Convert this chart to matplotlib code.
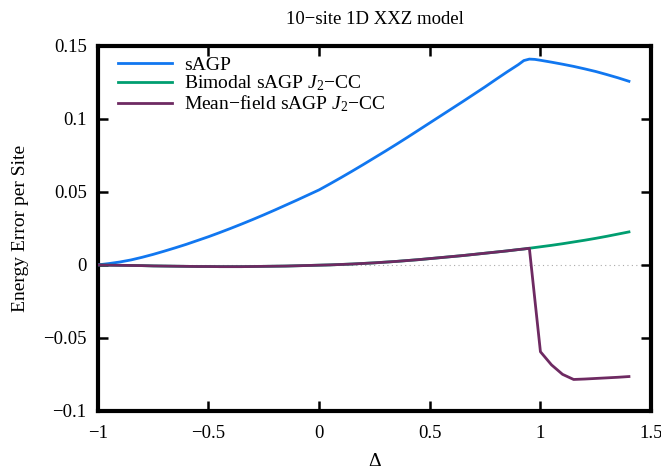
import numpy as np
import matplotlib
matplotlib.use("Agg")
import matplotlib.pyplot as plt

delta = [-1.00, -0.95, -0.90, -0.85, -0.80, -0.75, -0.70, -0.65, -0.60, -0.55,
         -0.50, -0.45, -0.40, -0.35, -0.30, -0.25, -0.20, -0.15, -0.10, -0.05,
         0.00, 0.05, 0.10, 0.15, 0.20, 0.25, 0.30, 0.35, 0.40, 0.45,
         0.50, 0.55, 0.60, 0.65, 0.70, 0.75, 0.80, 0.85, 0.90, 0.925, 0.95, 0.975,
         1.00, 1.05, 1.10, 1.15, 1.20, 1.25, 1.30, 1.35, 1.40]

sagp = [0.0000, 0.0009, 0.0020, 0.0034, 0.0052, 0.0072, 0.0094, 0.0117, 0.0141, 0.0167,
        0.0193, 0.0221, 0.0250, 0.0280, 0.0311, 0.0343, 0.0376, 0.0410, 0.0444, 0.0479,
        0.0514, 0.0556, 0.0599, 0.0643, 0.0688, 0.0734, 0.0780, 0.0827, 0.0875, 0.0924,
        0.0973, 0.1022, 0.1071, 0.1120, 0.1170, 0.1220, 0.1272, 0.1323, 0.1372, 0.1400, 0.1410, 0.1408,
        0.1402, 0.1389, 0.1375, 0.1360, 0.1343, 0.1325, 0.1304, 0.1282, 0.1258]

bimodal = [0.0000, -0.0002, -0.0003, -0.0004, -0.0005, -0.0007, -0.0008, -0.0009, -0.0010, -0.0011,
           -0.0011, -0.0012, -0.0012, -0.0012, -0.0011, -0.0010, -0.0009, -0.0008, -0.0006, -0.0004,
           -0.0002, 0.0000, 0.0003, 0.0006, 0.0010, 0.0014, 0.0019, 0.0024, 0.0030, 0.0036,
           0.0043, 0.0050, 0.0057, 0.0064, 0.0072, 0.0080, 0.0088, 0.0096, 0.0105, 0.0109, 0.0114, 0.0119,
           0.0124, 0.0134, 0.0145, 0.0157, 0.0169, 0.0182, 0.0196, 0.0211, 0.0226]

meanfield = [0.0000, -0.0002, -0.0003, -0.0004, -0.0005, -0.0007, -0.0008, -0.0009, -0.0010, -0.0011,
             -0.0011, -0.0012, -0.0012, -0.0012, -0.0011, -0.0010, -0.0009, -0.0008, -0.0006, -0.0004,
             -0.0002, 0.0000, 0.0003, 0.0006, 0.0010, 0.0014, 0.0019, 0.0024, 0.0030, 0.0036,
             0.0043, 0.0050, 0.0057, 0.0064, 0.0072, 0.0080, 0.0088, 0.0096, 0.0105, 0.0109, 0.0114, np.nan,
             -0.0595, -0.0685, -0.0750, -0.0785, -0.0782, -0.0778, -0.0774, -0.0770, -0.0765]

# connect the drop directly from 0.95 to 1.0
mf_x = [d for d, v in zip(delta, meanfield) if not np.isnan(v)]
mf_y = [v for v in meanfield if not np.isnan(v)]

xticks = [-1, -0.5, 0, 0.5, 1, 1.5]
xticklabels = ["\u22121", "\u22120.5", "0", "0.5", "1", "1.5"]
yticks = [-0.1, -0.05, 0, 0.05, 0.1, 0.15]
yticklabels = ["\u22120.1", "\u22120.05", "0", "0.05", "0.1", "0.15"]

plt.rcParams['font.family'] = ['Liberation Serif', 'DejaVu Serif']
plt.rcParams['mathtext.fontset'] = 'custom'
plt.rcParams['mathtext.rm'] = 'Liberation Serif'
plt.rcParams['mathtext.it'] = 'Liberation Serif:italic'

fig = plt.figure(figsize=(6.61, 4.69), dpi=100)
ax = fig.add_axes([0.148, 0.124, 0.837, 0.778])

ax.axhline(0, color='#aaaaaa', lw=0.8, ls=(0, (1, 3)), zorder=1)
ax.plot(delta, sagp, color='#1177f0', lw=2.0, label='sAGP', zorder=3)
ax.plot(delta, bimodal, color='#009e70', lw=2.0, label='Bimodal sAGP $J_2$\u2212CC', zorder=3)
ax.plot(mf_x, mf_y, color='#6e2a62', lw=2.0, label='Mean\u2212field sAGP $J_2$\u2212CC', zorder=4)

ax.set_xlim(-1, 1.5)
ax.set_ylim(-0.1, 0.15)
ax.set_xticks(xticks)
ax.set_xticklabels(xticklabels)
ax.set_yticks(yticks)
ax.set_yticklabels(yticklabels)
ax.tick_params(direction='in', top=True, right=True, length=7, width=1.8,
               labelsize=13.5, color='black')
ax.tick_params(axis='x', pad=10)
ax.tick_params(axis='y', pad=8)
for s in ax.spines.values():
    s.set_linewidth(3)

ax.set_xlabel('\u0394', fontsize=14, labelpad=8)
ax.set_ylabel('Energy Error per Site', fontsize=14, labelpad=10)
ax.set_title('10\u2212site 1D XXZ model', fontsize=13.5, pad=16)

leg = ax.legend(loc='upper left', frameon=False, fontsize=14, handlelength=2.8,
                labelspacing=0.0, handletextpad=0.6, borderaxespad=0.0, borderpad=0.0,
                bbox_to_anchor=(0.036, 0.972))

fig.savefig('out.png', dpi=100)
